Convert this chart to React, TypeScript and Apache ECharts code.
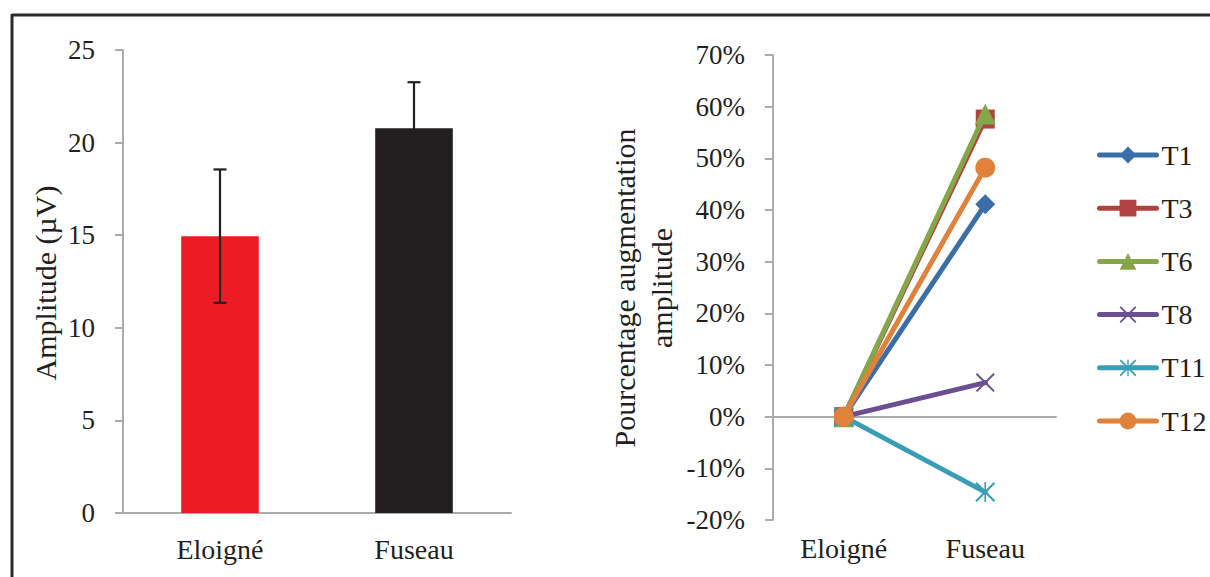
import React, { useEffect, useRef } from "react";
import * as echarts from "echarts";

const barCategories = ["Eloigné", "Fuseau"];
const barValues = [14.95, 20.78];
const barErrors = [3.6, 2.48];
const barColors = ["#ED1C24", "#231F20"];

const lineCategories = ["Eloigné", "Fuseau"];
const seriesNames = ["T1", "T3", "T6", "T8", "T11", "T12"];
const T1 = [0, 41.1];
const T3 = [0, 57.6];
const T6 = [0, 58.6];
const T8 = [0, 6.6];
const T11 = [0, -14.6];
const T12 = [0, 48.2];
const seriesValues = [T1, T3, T6, T8, T11, T12];
const seriesColors = ["#3B6EA8", "#B0423F", "#86A64A", "#6B4F93", "#3A9DB6", "#E0823A"];

const leftTicks = { min: 0, max: 25, interval: 5 };
const rightTicks = { min: -20, max: 70, interval: 10 };

const FONT = "'Liberation Serif', 'Times New Roman', serif";
const TEXT = "#231F20";
const AXIS = "#ABABAB";

const crossPath =
  "path://M0,1.5 L1.5,0 L10,8.5 L18.5,0 L20,1.5 L11.5,10 L20,18.5 L18.5,20 L10,11.5 L1.5,20 L0,18.5 L8.5,10 Z";
const starPath =
  "path://M0,1.5 L1.5,0 L10,8.5 L18.5,0 L20,1.5 L11.5,10 L20,18.5 L18.5,20 L10,11.5 L1.5,20 L0,18.5 L8.5,10 Z M9.2,0 L10.8,0 L10.8,20 L9.2,20 Z";
const symbols = ["diamond", "rect", "triangle", crossPath, starPath, "circle"];
const symbolSizes = [20, 19, 21, 19, 20, 20];

export default function App() {
  const ref = useRef<HTMLDivElement>(null);
  useEffect(() => {
    if (!ref.current) return;
    const chart = echarts.init(ref.current, null, { renderer: "svg" });
    const lineSeries = seriesNames.map((name, i) => ({
      name,
      type: "line",
      xAxisIndex: 1,
      yAxisIndex: 1,
      data: seriesValues[i],
      symbol: symbols[i],
      symbolSize: symbolSizes[i],
      showSymbol: true,
      itemStyle: { color: seriesColors[i] },
      lineStyle: { color: seriesColors[i], width: 5, cap: "round" },
      z: 3 + i,
    }));
    const option: any = {
      animation: false,
      textStyle: { fontFamily: FONT, color: TEXT },
      grid: [
        { left: 123, top: 50, width: 388, height: 463 },
        { left: 773, top: 55, width: 283, height: 465 },
      ],
      xAxis: [
        {
          type: "category",
          gridIndex: 0,
          data: barCategories,
          axisLine: { lineStyle: { color: AXIS, width: 2 } },
          axisTick: { length: 8, lineStyle: { color: AXIS, width: 2 } },
          axisLabel: { margin: 22, fontSize: 28, color: TEXT, fontFamily: FONT },
        },
        {
          type: "category",
          gridIndex: 1,
          data: lineCategories,
          position: "bottom",
          axisLine: { onZero: true, lineStyle: { color: AXIS, width: 2 } },
          axisTick: { length: 7, lineStyle: { color: AXIS, width: 2 } },
          axisLabel: { show: false },
        },
        {
          type: "category",
          gridIndex: 1,
          data: lineCategories,
          position: "bottom",
          axisLine: { show: false, onZero: false },
          axisTick: { show: false },
          axisLabel: { margin: 14, fontSize: 28, color: TEXT, fontFamily: FONT },
        },
      ],
      yAxis: [
        {
          type: "value",
          gridIndex: 0,
          min: leftTicks.min,
          max: leftTicks.max,
          interval: leftTicks.interval,
          splitLine: { show: false },
          axisLine: { show: true, lineStyle: { color: AXIS, width: 2 } },
          axisTick: { show: true, length: 8, lineStyle: { color: AXIS, width: 2 } },
          axisLabel: { margin: 28, fontSize: 27, color: TEXT, fontFamily: FONT },
        },
        {
          type: "value",
          gridIndex: 1,
          min: rightTicks.min,
          max: rightTicks.max,
          interval: rightTicks.interval,
          splitLine: { show: false },
          axisLine: { show: true, lineStyle: { color: AXIS, width: 2 } },
          axisTick: { show: true, length: 8, lineStyle: { color: AXIS, width: 2 } },
          axisLabel: {
            margin: 28,
            fontSize: 27,
            color: TEXT,
            fontFamily: FONT,
            formatter: "{value}%",
          },
        },
      ],
      legend: {
        orient: "vertical",
        left: 1097,
        top: 141,
        padding: 0,
        itemWidth: 57,
        itemHeight: 21,
        itemGap: 25.2,
        data: seriesNames,
        lineStyle: { width: 5, cap: "round" },
        textStyle: { fontSize: 28, color: TEXT, fontFamily: FONT, padding: 0 },
      },
      graphic: [
        {
          type: "line",
          shape: { x1: 12, y1: 15, x2: 1210, y2: 15 },
          style: { stroke: "#2A2A2A", lineWidth: 3 },
        },
        {
          type: "line",
          shape: { x1: 12, y1: 14, x2: 12, y2: 577 },
          style: { stroke: "#2A2A2A", lineWidth: 3 },
        },
        {
          type: "text",
          x: 45,
          y: 283,
          rotation: Math.PI / 2,
          style: {
            text: "Amplitude (µV)",
            font: `30px ${FONT}`,
            fill: TEXT,
            align: "center",
            verticalAlign: "middle",
          },
        },
        {
          type: "text",
          x: 643,
          y: 288,
          rotation: Math.PI / 2,
          style: {
            text: "Pourcentage augmentation\namplitude",
            font: `30px ${FONT}`,
            fill: TEXT,
            align: "center",
            verticalAlign: "middle",
            lineHeight: 37,
          },
        },
      ],
      series: [
        {
          type: "bar",
          xAxisIndex: 0,
          yAxisIndex: 0,
          barWidth: "40%",
          data: barValues.map((v, i) => ({ value: v, itemStyle: { color: barColors[i] } })),
        },
        {
          type: "custom",
          xAxisIndex: 0,
          yAxisIndex: 0,
          z: 5,
          data: barValues.map((v, i) => [i, v, barErrors[i]]),
          encode: { x: 0, y: 1 },
          renderItem: (params: any, api: any) => {
            const x = api.value(0);
            const v = api.value(1);
            const e = api.value(2);
            const top = api.coord([x, v + e]);
            const bot = api.coord([x, v - e]);
            const cap = 6.5;
            const style = { stroke: "#231F20", lineWidth: 2.2 };
            return {
              type: "group",
              children: [
                { type: "line", shape: { x1: top[0], y1: top[1], x2: bot[0], y2: bot[1] }, style },
                { type: "line", shape: { x1: top[0] - cap, y1: top[1], x2: top[0] + cap, y2: top[1] }, style },
                { type: "line", shape: { x1: bot[0] - cap, y1: bot[1], x2: bot[0] + cap, y2: bot[1] }, style },
              ],
            };
          },
        },
        ...lineSeries,
      ],
    };
    chart.setOption(option);
    return () => chart.dispose();
  }, []);
  return (
    <div
      ref={ref}
      style={{ position: "absolute", left: 0, top: 0, width: 1210, height: 577, background: "#fff" }}
    />
  );
}
